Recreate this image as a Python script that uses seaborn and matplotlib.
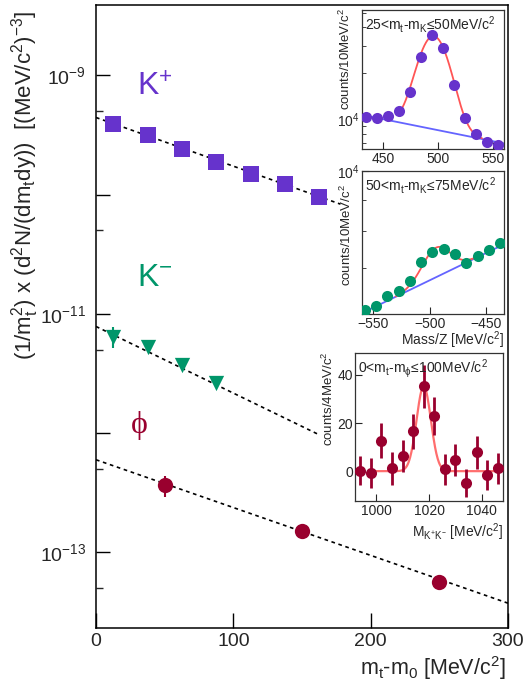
import numpy as np
import pandas as pd
import matplotlib
matplotlib.use("Agg")
import matplotlib.pyplot as plt
import seaborn as sns
from matplotlib.ticker import FixedLocator, FuncFormatter, NullFormatter

# ---------------- data ----------------
# main panel: inverse-slope spectra
mt_kp = [12.5, 37.5, 62.5, 87.5, 112.5, 137.5, 162.5]
y_kp = [3.92e-10, 3.16e-10, 2.42e-10, 1.88e-10, 1.49e-10, 1.23e-10, 9.6e-11]
mt_km = [12.5, 37.5, 62.5, 87.5]
y_km = [6.4e-12, 5.3e-12, 3.75e-12, 2.62e-12]
relerr_km = [0.2, 0.0, 0.0, 0.0]
mt_phi = [50, 150, 250]
y_phi = [3.64e-13, 1.50e-13, 5.6e-14]
relerr_phi = [0.2, 0.0, 0.0]
# exponential fits: (amplitude at 0, inverse slope T [MeV], upper end of drawn range)
fit_kp = (4.43e-10, 106.4, 178)
fit_km = (7.83e-12, 77.7, 162)
fit_phi = (5.97e-13, 108.3, 300)
# main y ticks
y_major = [1e-13, 1e-12, 1e-11, 1e-10, 1e-9]
y_minor = [5e-14, 5e-13, 5e-12, 5e-11, 5e-10]

# inset 1: K+ mass spectrum
m1 = [435, 445, 455, 465, 475, 485, 495, 505, 515, 525, 535, 545, 555]
c1 = [1.03e4, 1.02e4, 1.05e4, 1.13e4, 1.52e4, 2.57e4, 3.57e4, 2.92e4, 1.69e4, 1.015e4, 8.0e3, 7.07e3, 6.8e3]
bg1 = ((431, 1.07e4), (560, 6.96e3))
gaus1 = (2.65e4, 496, 13.0)
red1 = (465, 540)

# inset 2: K- mass spectrum
m2 = [-557.5, -547.5, -537.5, -527.5, -517.5, -507.5, -497.5, -487.5, -477.5, -467.5, -457.5, -447.5, -437.5]
c2 = [5.99e3, 6.08e3, 6.31e3, 6.43e3, 6.67e3, 7.14e3, 7.42e3, 7.51e3, 7.36e3, 7.11e3, 7.31e3, 7.47e3, 7.68e3]
bg2 = ((-560, 5.92e3), (-434, 7.63e3))
gaus2 = (780, -494, 12.0)
red2 = (-530, -455)

# inset 3: phi invariant mass
m3 = [994, 998, 1002, 1006, 1010, 1014, 1018, 1022, 1026, 1030, 1034, 1038, 1042, 1046]
c3 = [0.5, -0.5, 12.8, 1.4, 6.5, 16.8, 35.2, 23.0, 1.0, 4.8, -4.6, 8.0, -1.4, 1.4]
e3 = [5.9, 6.2, 7.2, 6.8, 6.6, 7.2, 8.8, 7.9, 6.4, 6.5, 5.9, 6.7, 6.2, 6.3]
fit3 = (0.3, 35.0, 1018, 2.7)
red3 = (1000, 1048)

# ---------------- style ----------------
sns.set_theme(style="ticks")
plt.rcParams["font.family"] = ["Liberation Sans", "DejaVu Sans"]
plt.rcParams["mathtext.fontset"] = "custom"
plt.rcParams["mathtext.rm"] = "Liberation Sans"
plt.rcParams["mathtext.it"] = "Liberation Sans"
plt.rcParams["mathtext.bf"] = "Liberation Sans:bold"
plt.rcParams["mathtext.default"] = "regular"

PURPLE = "#6633CC"
GREEN = "#00966A"
DRED = "#99002E"
BLUE = "#6464FF"
RED = "#FF5555"

W, H = 525, 693
fig = plt.figure(figsize=(W / 100, H / 100), dpi=100)


def rect(x0, y0, x1, y1):
    return [x0 / W, 1 - y1 / H, (x1 - x0) / W, (y1 - y0) / H]


ax = fig.add_axes(rect(96, 5, 508, 627.7))

df_kp = pd.DataFrame({"x": mt_kp, "y": y_kp})
df_km = pd.DataFrame({"x": mt_km, "y": y_km})
df_phi = pd.DataFrame({"x": mt_phi, "y": y_phi})

for (A, T, xmax) in (fit_kp, fit_km, fit_phi):
    xx = np.linspace(0, xmax, 200)
    ax.plot(xx, A * np.exp(-xx / T), color="black", lw=1.2, ls=(0, (2.2, 2.2)), zorder=2)

ykm = np.array(y_km); ekm = np.array(relerr_km) * ykm
ax.errorbar(mt_km, y_km, yerr=ekm, fmt="none", ecolor=GREEN, elinewidth=1.5, capsize=0, zorder=3)
yph = np.array(y_phi); eph = np.array(relerr_phi) * yph
ax.errorbar(mt_phi, y_phi, yerr=eph, fmt="none", ecolor=DRED, elinewidth=1.5, capsize=0, zorder=3)

sns.scatterplot(data=df_kp, x="x", y="y", marker="s", s=11.5 ** 2, color=PURPLE, linewidth=0, ax=ax, zorder=4)
sns.scatterplot(data=df_km, x="x", y="y", marker="v", s=11.0 ** 2, color=GREEN, linewidth=0, ax=ax, zorder=4)
sns.scatterplot(data=df_phi, x="x", y="y", marker="o", s=11.0 ** 2, color=DRED, linewidth=0, ax=ax, zorder=4)

ax.set_yscale("log")
ax.set_ylim(2.33e-14, 3.89e-9)
ax.set_xlim(0, 300)
ax.set_xticks([0, 100, 200, 300])
ax.yaxis.set_major_locator(FixedLocator(y_major))
ax.yaxis.set_minor_locator(FixedLocator(y_minor))


def ylab(v, p):
    e = int(round(np.log10(v)))
    return r"$10^{%d}$" % e if e % 2 != 0 else ""


ax.yaxis.set_major_formatter(FuncFormatter(ylab))
ax.yaxis.set_minor_formatter(NullFormatter())
ax.tick_params(axis="both", which="major", direction="in", length=10, width=1.0, labelsize=14, color="black")
ax.tick_params(axis="y", which="major", pad=7)
ax.tick_params(axis="x", which="major", pad=4, length=11)
ax.tick_params(axis="y", which="minor", direction="in", length=5, width=1.0)
ax.set_xlabel("")
ax.set_ylabel("")
for s in ax.spines.values():
    s.set_linewidth(1.1)
    s.set_color("black")

fig.text(25 / W, 1 - 11 / H,
         r"(1/m$_{t}^{2}$) x (d$^{2}$N/(dm$_{t}$dy))  [(MeV/c$^{2}$)$^{-3}$]",
         rotation=90, ha="center", va="top", fontsize=16)
fig.text(506 / W, 1 - 668 / H, r"m$_{t}$-m$_{0}$ [MeV/c$^{2}$]", ha="right", va="center", fontsize=15.5)

fig.text(137 / W, 1 - 88 / H, r"K$^{+}$", color=PURPLE, fontsize=23, ha="left", va="center")
fig.text(137 / W, 1 - 278 / H, r"K$^{-}$", color=GREEN, fontsize=23, ha="left", va="center")
fig.text(139 / W, 1 - 425 / H, "ϕ", color=DRED, fontsize=23, ha="center", va="center",
         family=["Liberation Serif", "DejaVu Serif"])

# ---------------- insets ----------------
ax1 = fig.add_axes(rect(362, 10, 504, 149))
ax2 = fig.add_axes(rect(362, 171, 504, 314))
ax3 = fig.add_axes(rect(355, 353, 503, 501))


def style_inset(a):
    for s in a.spines.values():
        s.set_linewidth(0.9)
        s.set_color("#333333")
    a.tick_params(axis="both", which="major", direction="in", length=5, width=0.8, labelsize=10, pad=2)
    a.tick_params(axis="y", which="major", pad=1.5)
    a.tick_params(axis="both", which="minor", direction="in", length=3, width=0.6)
    a.set_xlabel("")
    a.set_ylabel("")


def expbg(p, x):
    (x0, y0), (x1, y1) = p
    return y0 * (y1 / y0) ** ((x - x0) / (x1 - x0))


# inset 1
xx = np.linspace(431, 560, 200)
ax1.plot(xx, expbg(bg1, xx), color=BLUE, lw=1.3, zorder=2)
xr = np.linspace(*red1, 200)
A, mu, sg = gaus1
ax1.plot(xr, expbg(bg1, xr) + A * np.exp(-0.5 * ((xr - mu) / sg) ** 2), color=RED, lw=1.3, zorder=3)
sns.scatterplot(x=m1, y=c1, marker="o", s=8 ** 2, color=PURPLE, linewidth=0, ax=ax1, zorder=4)
ax1.set_yscale("log")
ax1.set_xlim(431, 560)
ax1.set_ylim(6.4e3, 5.2e4)
ax1.set_xticks([450, 500, 550])
ax1.yaxis.set_minor_formatter(NullFormatter())
style_inset(ax1)
ax1.text(0.02, 0.97, r"25<m$_{t}$-m$_{K}$≤50MeV/c$^{2}$", transform=ax1.transAxes, ha="left", va="top", fontsize=10)
ax1.text(-0.12, 1.015, r"counts/10MeV/c$^{2}$", transform=ax1.transAxes, rotation=90, ha="center", va="top", fontsize=9.5)

# inset 2
xx = np.linspace(-560, -434, 200)
ax2.plot(xx, expbg(bg2, xx), color=BLUE, lw=1.3, zorder=2)
xr = np.linspace(*red2, 200)
A, mu, sg = gaus2
ax2.plot(xr, expbg(bg2, xr) + A * np.exp(-0.5 * ((xr - mu) / sg) ** 2), color=RED, lw=1.3, zorder=3)
sns.scatterplot(x=m2, y=c2, marker="o", s=8 ** 2, color=GREEN, linewidth=0, ax=ax2, zorder=4)
ax2.set_yscale("log")
ax2.set_xlim(-560, -434)
ax2.set_ylim(5.9e3, 1.0e4)
ax2.set_xticks([-550, -500, -450])
ax2.yaxis.set_minor_formatter(NullFormatter())
style_inset(ax2)
ax2.text(0.02, 0.97, r"50<m$_{t}$-m$_{K}$≤75MeV/c$^{2}$", transform=ax2.transAxes, ha="left", va="top", fontsize=10)
ax2.text(-0.11, 0.91, r"counts/10MeV/c$^{2}$", transform=ax2.transAxes, rotation=90, ha="center", va="top", fontsize=9.5)
ax2.text(1.0, -0.11, r"Mass/Z [MeV/c$^{2}$]", transform=ax2.transAxes, ha="right", va="top", fontsize=10)

# inset 3
xr = np.linspace(*red3, 300)
base, A, mu, sg = fit3
ax3.plot(xr, base + A * np.exp(-0.5 * ((xr - mu) / sg) ** 2), color=RED, lw=1.6, alpha=0.85, zorder=2)
ax3.errorbar(m3, c3, yerr=e3, fmt="none", ecolor=DRED, elinewidth=2.0, capsize=0, zorder=3)
sns.scatterplot(x=m3, y=c3, marker="o", s=8 ** 2, color=DRED, linewidth=0, ax=ax3, zorder=4)
ax3.set_xlim(992, 1048)
ax3.set_ylim(-12, 49)
ax3.set_xticks([1000, 1020, 1040])
ax3.set_yticks([0, 20, 40])
style_inset(ax3)
ax3.text(0.02, 0.97, r"0<m$_{t}$-m$_{\phi}$≤100MeV/c$^{2}$", transform=ax3.transAxes, ha="left", va="top", fontsize=10)
ax3.text(-0.18, 1.01, r"counts/4MeV/c$^{2}$", transform=ax3.transAxes, rotation=90, ha="center", va="top", fontsize=9.5)
ax3.text(1.0, -0.14, r"M$_{K^{+}K^{-}}$ [MeV/c$^{2}$]", transform=ax3.transAxes, ha="right", va="top", fontsize=10)

fig.savefig("out.png", dpi=100)
